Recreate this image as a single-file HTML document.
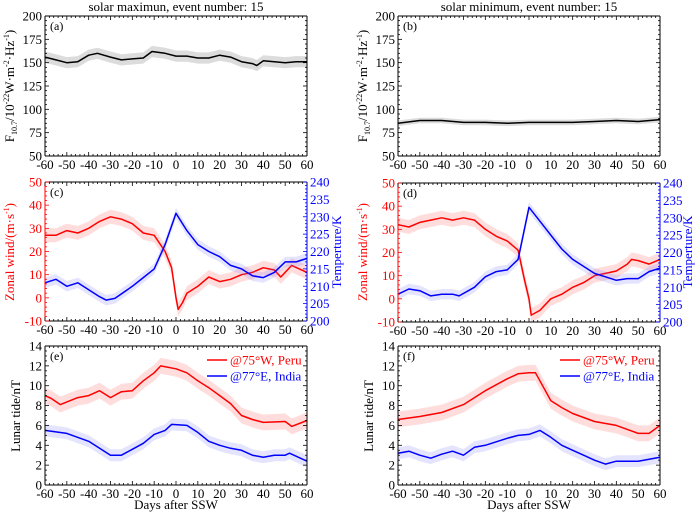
<!DOCTYPE html>
<html><head><meta charset="utf-8"><style>
body{margin:0;background:#fff}
svg,svg text{font-family:"Liberation Serif","Times New Roman",serif}
</style></head><body>
<svg id="c" width="700" height="514" xmlns="http://www.w3.org/2000/svg" font-family="Liberation Serif, serif"></svg>
<script>
const days_a=[-60,-55,-50,-45,-40,-36,-30,-25,-20,-15,-11,-5,0,5,10,15,20,25,30,35,37,40,45,50,55,60];
const f107Max=[156,153,150,151,158,160,156,153,154,155,162,160,157,157,155,155,158,156,151,149,147,152,151,150,151,151];
const days_b=[-60,-50,-40,-30,-20,-10,0,10,20,30,40,50,60];
const f107Min=[85,88,88,86,86,85,86,86,86,87,88,87,89];
const days_cw=[-60,-55,-50,-45,-40,-35,-30,-25,-20,-15,-10,-5,-2,0,1,3,5,10,15,20,25,30,35,40,45,48,53,60];
const windMax=[27,27,29,28,30,33,35,34,32,28,27,20,13,0,-5,-2,2,5,9,7,8,10,11,13,12,9,14,11];
const days_ct=[-60,-55,-50,-45,-40,-35,-32,-28,-20,-15,-10,-5,0,5,10,15,20,25,30,35,40,45,50,55,60];
const tempMax=[211,212,210,211,209,207,206,206.5,210,212.5,215,222,231,226,222,220,218.5,216,215,213,212.5,214,217,217,218];
const days_dw=[-60,-55,-50,-45,-40,-35,-30,-25,-20,-15,-10,-5,-2,0,1,5,10,15,20,25,30,35,40,45,47,50,55,60];
const windMin=[32,31,33,34,35,34,35,34,30,27,25,21,8,0,-7,-5,0,2,5,7,10,11,12,15,17,16.5,15,17];
const days_dt=[-60,-55,-50,-45,-40,-35,-32,-25,-20,-15,-10,-5,0,5,10,15,20,25,30,35,40,45,50,55,60];
const tempMin=[208,209.5,209,207.5,208,208,207.5,210,213,214.5,215,218,233,229,225,221,218,216,214,213,212,212.5,212.5,214.5,215.5];
const days_ep=[-60,-57,-53,-45,-40,-35,-30,-25,-20,-15,-10,-7,0,5,10,15,20,25,30,35,40,50,53,60];
const peruMax=[9,8.7,8.1,8.8,9,9.5,8.8,9.4,9.5,10.5,11.3,12,11.7,11.3,10.5,9.8,9,8.2,7,6.6,6.3,6.4,5.9,6.5];
const days_ei=[-60,-50,-40,-30,-25,-20,-15,-10,-5,-2,5,10,15,20,25,30,35,40,45,50,52,60];
const indiaMax=[5.5,5.2,4.4,3,3,3.6,4.2,5.1,5.5,6.1,6,5.3,4.4,4,3.7,3.5,3,2.8,3,3,3.2,2.4];
const days_fp=[-60,-50,-40,-30,-20,-10,-5,0,3,5,10,15,20,30,40,45,50,55,60];
const peruMin=[6.6,6.9,7.3,8.1,9.5,10.7,11.2,11.3,11.3,10.5,8.5,7.8,7.2,6.4,6,5.6,5.2,5.2,6];
const days_fi=[-60,-55,-50,-45,-40,-35,-30,-25,-20,-10,-5,0,5,10,15,20,25,30,35,40,50,60];
const indiaMin=[3.2,3.4,3,2.7,3.1,3.4,3,3.8,4,4.7,5,5.1,5.5,4.8,4,3.5,3,2.5,2.1,2.4,2.4,2.8];
const xTicks=[-60,-50,-40,-30,-20,-10,0,10,20,30,40,50,60];

const svg=document.getElementById('c');
const NS='http://www.w3.org/2000/svg';
const FF='Liberation Serif, serif';
function mk(tag,attrs,parent){const e=document.createElementNS(NS,tag);for(const k in attrs)e.setAttribute(k,attrs[k]);(parent||svg).appendChild(e);return e;}
function txt(x,y,s,attrs,parent){const t=mk('text',Object.assign({x:x,y:y,'font-size':13,'font-family':FF},attrs),parent);t.textContent=s;return t;}

function panel(name,x0,x1,y0,y1,yMin,yMax,yStep,opt){
  const g=mk('g',{});
  
  
  const sx=d=>x0+(d+60)/120*(x1-x0);
  const sy=v=>y1-(v-yMin)/(yMax-yMin)*(y1-y0);
  const sy2=opt.y2?(v=>y1-(v-opt.y2[0])/(opt.y2[1]-opt.y2[0])*(y1-y0)):null;
  function series(days,vals,color,band,fill,scale,sname){
    const s=scale||sy;
    let up='',dn='';
    days.forEach((d,i)=>{up+=(i?'L':'M')+sx(d).toFixed(1)+','+s(vals[i]+band).toFixed(1);});
    for(let i=days.length-1;i>=0;i--)dn+='L'+sx(days[i]).toFixed(1)+','+s(vals[i]-band).toFixed(1);
    const b=mk('path',{d:up+dn+'Z',fill:fill,stroke:'none'},g);
    
    
    let p='';days.forEach((d,i)=>{p+=(i?'L':'M')+sx(d).toFixed(1)+','+s(vals[i]).toFixed(1);});
    const l=mk('path',{d:p,fill:'none',stroke:color,'stroke-width':1.5,'stroke-linejoin':'round'},g);
    
    
  }
  opt.series.forEach(s=>series(s[0],s[1],s[2],s[3],s[4],s[5]?sy2:null,s[6]));
  const lc=opt.leftColor||'#000', rc=opt.y2?'#00f':'#000';
  mk('line',{x1:x0,y1:y1,x2:x1,y2:y1,stroke:'#000'},g);
  mk('line',{x1:x0,y1:y0,x2:x1,y2:y0,stroke:'#000'},g);
  mk('line',{x1:x0,y1:y0,x2:x0,y2:y1,stroke:lc},g);
  mk('line',{x1:x1,y1:y0,x2:x1,y2:y1,stroke:rc},g);
  for(let d=-60;d<=60;d+=2){const maj=d%10===0;const L=maj?4:2;
    mk('line',{x1:sx(d),y1:y1,x2:sx(d),y2:y1-L,stroke:'#000','stroke-width':0.8},g);
    mk('line',{x1:sx(d),y1:y0,x2:sx(d),y2:y0+L,stroke:'#000','stroke-width':0.8},g);}
  xTicks.forEach(d=>txt(sx(d),y1+13,String(d),{'text-anchor':'middle'},g));
  const ms=yStep/(opt.minorDiv||5);
  for(let v=yMin;v<=yMax+1e-6;v+=ms){const maj=Math.abs(((v-yMin)/yStep)-Math.round((v-yMin)/yStep))<1e-6;const L=maj?4:2;
    mk('line',{x1:x0,y1:sy(v),x2:x0+L,y2:sy(v),stroke:lc,'stroke-width':0.8},g);
    if(!opt.y2)mk('line',{x1:x1,y1:sy(v),x2:x1-L,y2:sy(v),stroke:'#000','stroke-width':0.8},g);
    if(maj)txt(x0-3,sy(v)+4.5,String(Math.round(v)),{'text-anchor':'end',fill:lc},g);}
  if(opt.y2){for(let v=opt.y2[0];v<=opt.y2[1];v+=1){const maj=v%5===0;const L=maj?4:2;
    mk('line',{x1:x1,y1:sy2(v),x2:x1-L,y2:sy2(v),stroke:'#00f','stroke-width':0.8},g);
    if(maj)txt(x1+3,sy2(v)+4.5,String(v),{fill:'#00f'},g);}}
  txt(x0+5,y0+14,opt.label,{'font-size':12},g);
  return {sx,sy,g};
}
const L0=45,L1=307,R0=398,R1=660;
const grey='#dcdcdc',pink='rgba(255,120,120,0.25)',lblue='rgba(120,120,255,0.2)';
panel('panel-a',L0,L1,16,156,50,200,25,{label:'(a)',series:[[days_a,f107Max,'#000',6,grey,0,'f107-max']]});
panel('panel-b',R0,R1,16,156,50,200,25,{label:'(b)',series:[[days_b,f107Min,'#000',3,grey,0,'f107-min']]});
panel('panel-c',L0,L1,182,321,-10,50,10,{label:'(c)',leftColor:'#f00',y2:[200,240],series:[[days_cw,windMax,'#f00',3,pink,0,'wind-max'],[days_ct,tempMax,'#00f',1.5,lblue,1,'temp-max']]});
panel('panel-d',R0,R1,183,322,-10,50,10,{label:'(d)',leftColor:'#f00',y2:[200,240],series:[[days_dw,windMin,'#f00',3,pink,0,'wind-min'],[days_dt,tempMin,'#00f',1.5,lblue,1,'temp-min']]});
panel('panel-e',L0,L1,346,485,0,14,2,{label:'(e)',minorDiv:4,series:[[days_ep,peruMax,'#f00',0.8,pink,0,'peru-max'],[days_ei,indiaMax,'#00f',0.6,lblue,0,'india-max']]});
panel('panel-f',R0,R1,346,485,0,14,2,{label:'(f)',minorDiv:4,series:[[days_fp,peruMin,'#f00',0.8,pink,0,'peru-min'],[days_fi,indiaMin,'#00f',0.6,lblue,0,'india-min']]});

function legend(x,pfx){
  [['@75°W, Peru','#f00',360],['@77°E, India','#00f',376]].forEach((e,i)=>{
    const g=mk('g',{});
    
    
    mk('line',{x1:x,y1:e[2],x2:x+20,y2:e[2],stroke:e[1],'stroke-width':1.5},g);
    txt(x+23,e[2]+4.5,e[0],{fill:e[1]},g);
  });
}
legend(207,'left');legend(560,'right');

function title(x,s,n){const t=txt(x,11,s,{'text-anchor':'middle'});}
title(176,'solar maximun, event number: 15','title-max');
title(529,'solar minimum, event number: 15','title-min');
function xl(x,n){const t=txt(x,509,'Days after SSW',{'text-anchor':'middle'});}
xl(176,'x-axis-title-left');xl(529,'x-axis-title-right');

function ylab(x,yc,html,color,n){
  const t=mk('text',{x:0,y:0,'font-size':13,'font-family':FF,fill:color,'text-anchor':'middle',transform:`translate(${x},${yc}) rotate(-90)`});
  t.innerHTML=html;
  
}
const fl='F<tspan font-size="8" dy="3">10.7</tspan><tspan dy="-3">/10</tspan><tspan font-size="8" dy="-5">-22</tspan><tspan dy="5">W·m</tspan><tspan font-size="8" dy="-5">-2</tspan><tspan dy="5">·Hz</tspan><tspan font-size="8" dy="-5">-1</tspan><tspan dy="5">)</tspan>';
ylab(14,86,fl,'#000','y-axis-title-a');ylab(367,86,fl,'#000','y-axis-title-b');
const zw='Zonal wind/(m·s<tspan font-size="8" dy="-5">-1</tspan><tspan dy="5">)</tspan>';
ylab(14,252,zw,'#f00','y-axis-title-c');ylab(367,252,zw,'#f00','y-axis-title-d');
ylab(341,252,'Temperture/K','#00f','y2-axis-title-c');ylab(692,252,'Temperture/K','#00f','y2-axis-title-d');
ylab(20,416,'Lunar tide/nT','#000','y-axis-title-e');ylab(373,416,'Lunar tide/nT','#000','y-axis-title-f');
</script>
</body></html>
